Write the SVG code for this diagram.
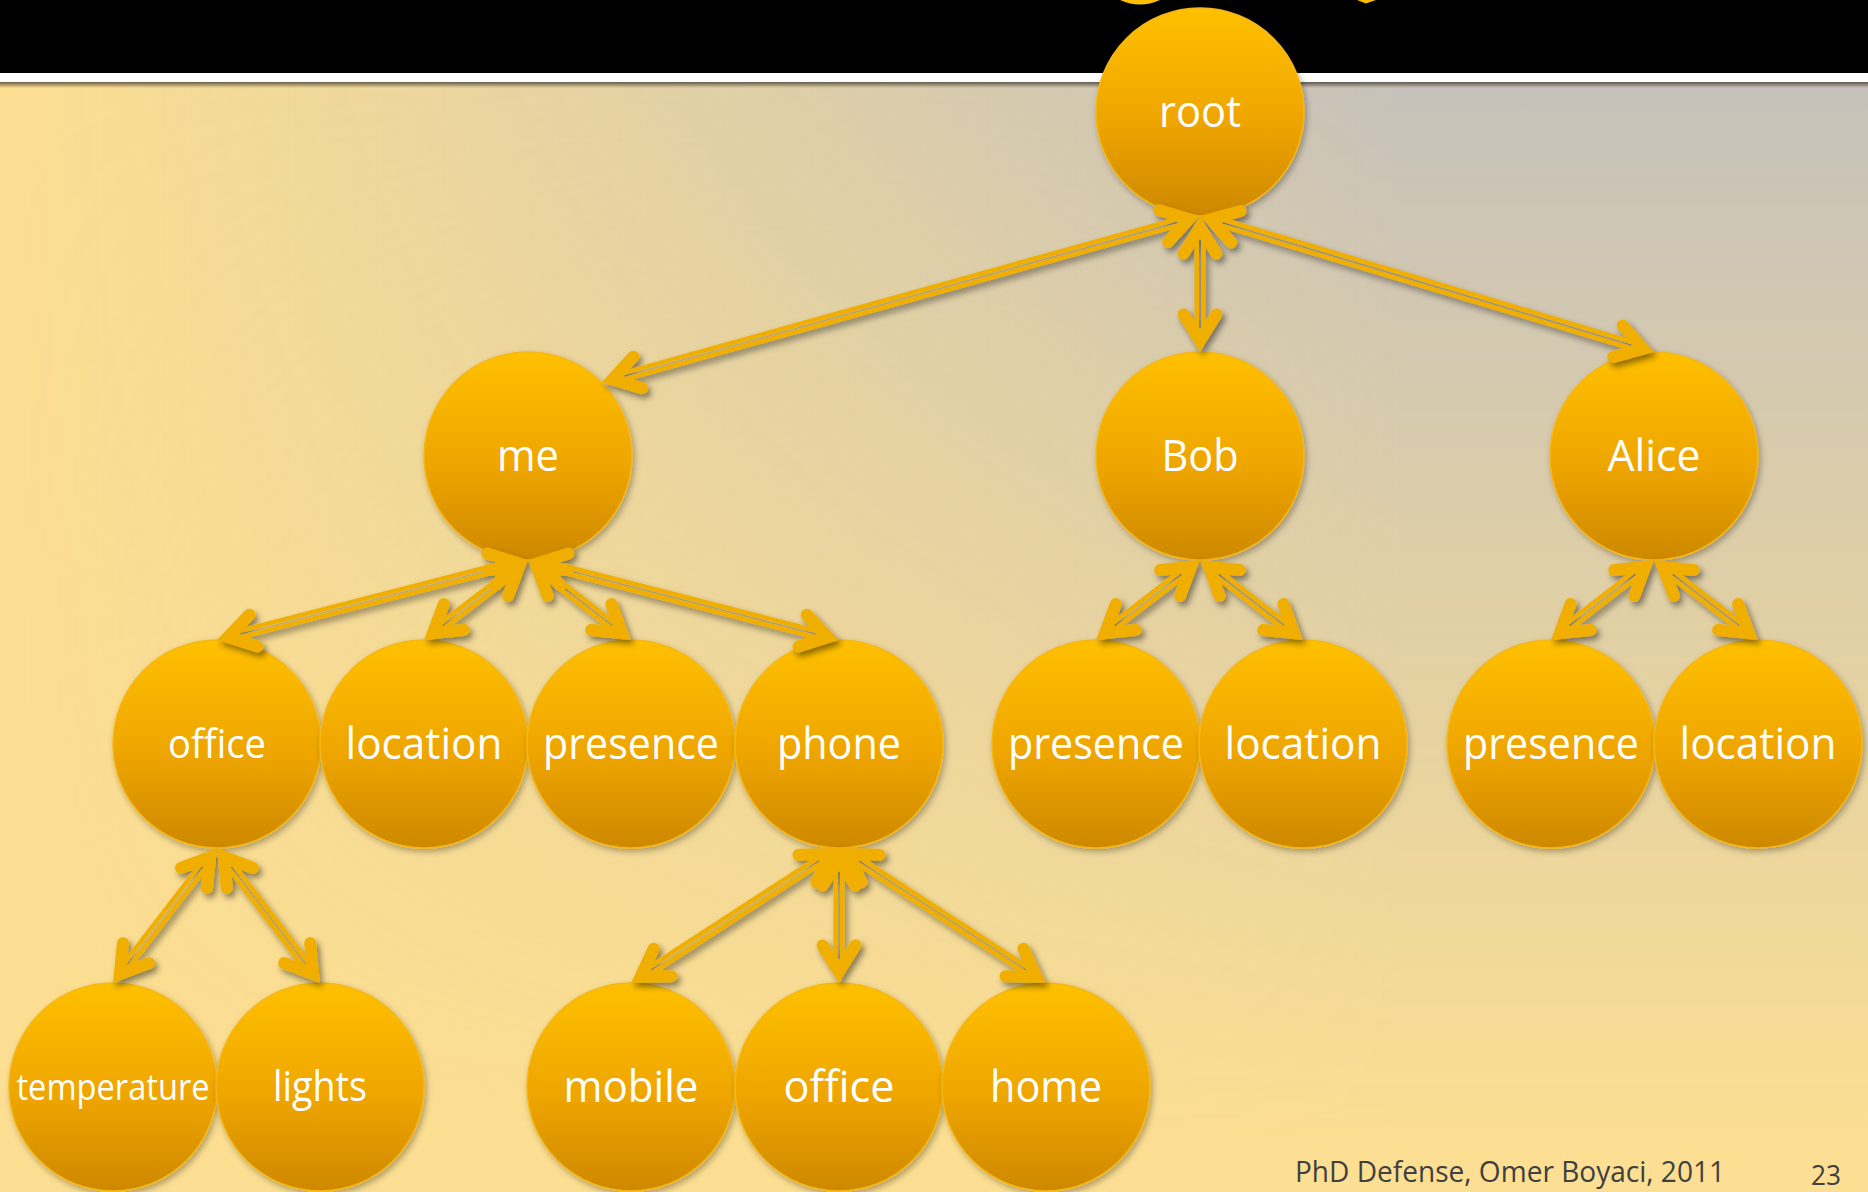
<svg xmlns="http://www.w3.org/2000/svg" xmlns:xlink="http://www.w3.org/1999/xlink" width="1868" height="1192" viewBox="0 0 1868 1192">
  <style>
    .ball { fill: url(#ballFill); stroke: #F5B718; stroke-width: 1.5; filter: url(#nodeShadow); }
    .label { fill: #ffffff; font-family: "Open Sans", "Noto Sans", sans-serif; font-size: 44px; text-anchor: middle; }
    .shaft { stroke: #F0AE00; stroke-width: 11; stroke-linecap: butt; fill: none; }
    .heads { stroke: none; fill: none; marker-start: url(#chev); marker-end: url(#chev); }
    .gap { stroke: #000; stroke-width: 2; }
    .footer { fill: #404040; font-family: "Open Sans", "Noto Sans", sans-serif; }
  </style>
  <defs>
    <linearGradient id="ballFill" x1="0" y1="0" x2="0" y2="1">
      <stop offset="0" stop-color="#FFC000"/>
      <stop offset="0.55" stop-color="#EEA500"/>
      <stop offset="1" stop-color="#CD8800"/>
    </linearGradient>
    <linearGradient id="bgTint" gradientUnits="userSpaceOnUse" x1="0" y1="0" x2="1868" y2="0">
      <stop offset="0" stop-color="#C6C1BA" stop-opacity="0"/>
      <stop offset="0.75" stop-color="#C6C1BA" stop-opacity="1"/>
      <stop offset="1" stop-color="#C6C1BA" stop-opacity="1"/>
    </linearGradient>
    <linearGradient id="fadeDown" gradientUnits="userSpaceOnUse" x1="0" y1="82" x2="0" y2="1150">
      <stop offset="0" stop-color="#fff"/>
      <stop offset="1" stop-color="#000"/>
    </linearGradient>
    <linearGradient id="barShade" x1="0" y1="0" x2="0" y2="1">
      <stop offset="0" stop-color="#3c3428" stop-opacity="0.75"/>
      <stop offset="1" stop-color="#3c3428" stop-opacity="0"/>
    </linearGradient>
    <mask id="tintFade" maskUnits="userSpaceOnUse" x="0" y="0" width="1868" height="1192">
      <rect width="1868" height="1192" fill="url(#fadeDown)"/>
    </mask>
    <filter id="nodeShadow" x="-20%" y="-20%" width="150%" height="150%">
      <feDropShadow dx="2" dy="3" stdDeviation="3" flood-color="#000" flood-opacity="0.3"/>
    </filter>
    <filter id="edgeShadow" filterUnits="userSpaceOnUse" x="0" y="0" width="1868" height="1192">
      <feDropShadow dx="3" dy="4" stdDeviation="3" flood-color="#000" flood-opacity="0.45"/>
    </filter>
    <!-- open chevron head, vertex at the origin -->
    <marker id="chev" markerUnits="userSpaceOnUse" viewBox="-40 -40 80 80" markerWidth="80" markerHeight="80" refX="0" refY="0" orient="auto-start-reverse" overflow="visible">
      <path d="M-26.3,-16.4 L0,0 L-26.3,16.4" fill="none" stroke="#F0AE00" stroke-width="12" stroke-linecap="round" stroke-linejoin="miter" stroke-miterlimit="10"/>
    </marker>
    <!-- the thin slit that runs along the middle of every shaft -->
    <mask id="gapCut" maskUnits="userSpaceOnUse" x="0" y="0" width="1868" height="1192">
      <rect width="1868" height="1192" fill="#fff"/>
      <g class="gap">
        <line x1="1177.8" y1="222.2" x2="623.7" y2="376.3"/>
        <line x1="1200" y1="239" x2="1200" y2="329"/>
        <line x1="1222.0" y1="222.6" x2="1632.0" y2="345.4"/>
        <line x1="505.7" y1="565.7" x2="239.3" y2="634.3"/>
        <line x1="509.8" y1="574.0" x2="442.2" y2="626.0"/>
        <line x1="546.2" y1="574.1" x2="612.8" y2="625.9"/>
        <line x1="550.3" y1="565.7" x2="816.7" y2="634.3"/>
        <line x1="1181.8" y1="574.0" x2="1114.2" y2="626.0"/>
        <line x1="1218.2" y1="574.1" x2="1284.8" y2="625.9"/>
        <line x1="1635.8" y1="574.1" x2="1569.2" y2="625.9"/>
        <line x1="1672.2" y1="574.0" x2="1739.8" y2="626.0"/>
        <line x1="203.0" y1="866.2" x2="127.0" y2="964.8"/>
        <line x1="231.0" y1="866.3" x2="306.1" y2="964.7"/>
        <line x1="819.7" y1="860.5" x2="650.3" y2="970.5"/>
        <line x1="839" y1="871" x2="839" y2="960"/>
        <line x1="858.3" y1="860.6" x2="1026.7" y2="970.4"/>
      </g>
    </mask>
  </defs>

  <!-- slide background -->
  <rect width="1868" height="1192" fill="#FCDF92"/>
  <rect width="1868" height="1192" fill="url(#bgTint)" mask="url(#tintFade)"/>

  <!-- title band -->
  <rect x="0" y="0" width="1868" height="73" fill="#000"/>
  <rect x="0" y="73" width="1868" height="9" fill="#fff"/>
  <rect x="0" y="82" width="1868" height="6" fill="url(#barShade)"/>
  <path d="M1120,0 Q1140,9 1160,0 Z" fill="#FDBF00"/>
  <path d="M1357,0 L1366,3.5 L1376,0 Z" fill="#FDBF00"/>

  <!-- nodes -->
  <g id="node-root"><circle class="ball" cx="1200" cy="112" r="104"/><text class="label" x="1200" y="127" textLength="82" lengthAdjust="spacingAndGlyphs">root</text></g>

  <g id="node-me"><circle class="ball" cx="528" cy="456" r="104"/><text class="label" x="528" y="471" textLength="62" lengthAdjust="spacingAndGlyphs">me</text></g>
  <g id="node-bob"><circle class="ball" cx="1200" cy="456" r="104"/><text class="label" x="1200" y="471" textLength="77" lengthAdjust="spacingAndGlyphs">Bob</text></g>
  <g id="node-alice"><circle class="ball" cx="1654" cy="456" r="104"/><text class="label" x="1654" y="471" textLength="93" lengthAdjust="spacingAndGlyphs">Alice</text></g>

  <g id="node-me-office"><circle class="ball" cx="217" cy="744" r="104"/><text class="label" x="217" y="758" style="font-size:40px" textLength="98" lengthAdjust="spacingAndGlyphs">office</text></g>
  <g id="node-me-location"><circle class="ball" cx="424" cy="744" r="104"/><text class="label" x="424" y="759" textLength="157" lengthAdjust="spacingAndGlyphs">location</text></g>
  <g id="node-me-presence"><circle class="ball" cx="631" cy="744" r="104"/><text class="label" x="631" y="759" textLength="176" lengthAdjust="spacingAndGlyphs">presence</text></g>
  <g id="node-me-phone"><circle class="ball" cx="839" cy="744" r="104"/><text class="label" x="839" y="759" textLength="124" lengthAdjust="spacingAndGlyphs">phone</text></g>

  <g id="node-bob-presence"><circle class="ball" cx="1096" cy="744" r="104"/><text class="label" x="1096" y="759" textLength="176" lengthAdjust="spacingAndGlyphs">presence</text></g>
  <g id="node-bob-location"><circle class="ball" cx="1303" cy="744" r="104"/><text class="label" x="1303" y="759" textLength="157" lengthAdjust="spacingAndGlyphs">location</text></g>

  <g id="node-alice-presence"><circle class="ball" cx="1551" cy="744" r="104"/><text class="label" x="1551" y="759" textLength="176" lengthAdjust="spacingAndGlyphs">presence</text></g>
  <g id="node-alice-location"><circle class="ball" cx="1758" cy="744" r="104"/><text class="label" x="1758" y="759" textLength="157" lengthAdjust="spacingAndGlyphs">location</text></g>

  <g id="node-temperature"><circle class="ball" cx="113" cy="1087" r="104"/><text class="label" x="113" y="1100" style="font-size:37px" textLength="193" lengthAdjust="spacingAndGlyphs">temperature</text></g>
  <g id="node-lights"><circle class="ball" cx="320" cy="1087" r="104"/><text class="label" x="320" y="1101" style="font-size:42px" textLength="94" lengthAdjust="spacingAndGlyphs">lights</text></g>

  <g id="node-mobile"><circle class="ball" cx="631" cy="1087" r="104"/><text class="label" x="631" y="1102" textLength="135" lengthAdjust="spacingAndGlyphs">mobile</text></g>
  <g id="node-phone-office"><circle class="ball" cx="839" cy="1087" r="104"/><text class="label" x="839" y="1102" textLength="111" lengthAdjust="spacingAndGlyphs">office</text></g>
  <g id="node-home"><circle class="ball" cx="1046" cy="1087" r="104"/><text class="label" x="1046" y="1102" textLength="112" lengthAdjust="spacingAndGlyphs">home</text></g>

  <!-- connectors: double-line shafts with open heads at both ends -->
  <g id="connectors" filter="url(#edgeShadow)">
    <g class="shaft" mask="url(#gapCut)">
      <g id="edgeSet">
        <line id="edge-root-me" x1="1189.1" y1="219.0" x2="612.4" y2="379.5"/>
        <line id="edge-root-bob" x1="1200" y1="227.3" x2="1200" y2="340.7"/>
        <line id="edge-root-alice" x1="1210.8" y1="219.2" x2="1643.2" y2="348.7"/>
        <line id="edge-me-office" x1="517.0" y1="562.8" x2="228.0" y2="637.2"/>
        <line id="edge-me-location" x1="519.0" y1="566.9" x2="433.0" y2="633.1"/>
        <line id="edge-me-presence" x1="536.9" y1="566.9" x2="622.1" y2="633.1"/>
        <line id="edge-me-phone" x1="539.0" y1="562.8" x2="828.0" y2="637.2"/>
        <line id="edge-bob-presence" x1="1191.0" y1="566.9" x2="1105.0" y2="633.1"/>
        <line id="edge-bob-location" x1="1208.9" y1="566.9" x2="1294.1" y2="633.1"/>
        <line id="edge-alice-presence" x1="1645.1" y1="566.9" x2="1559.9" y2="633.1"/>
        <line id="edge-alice-location" x1="1663.0" y1="566.9" x2="1749.0" y2="633.1"/>
        <line id="edge-office-temperature" x1="210.1" y1="857.0" x2="119.9" y2="974.0"/>
        <line id="edge-office-lights" x1="223.9" y1="857.0" x2="313.1" y2="974.0"/>
        <line id="edge-phone-mobile" x1="829.5" y1="854.2" x2="640.5" y2="976.8"/>
        <line id="edge-phone-office" x1="839" y1="859.3" x2="839" y2="971.7"/>
        <line id="edge-phone-home" x1="848.5" y1="854.2" x2="1036.5" y2="976.8"/>
      </g>
    </g>
    <use href="#edgeSet" xlink:href="#edgeSet" class="heads"/>
  </g>

  <!-- footer -->
  <text class="footer" x="1295" y="1182" style="font-size:30px" textLength="430" lengthAdjust="spacingAndGlyphs">PhD Defense, Omer Boyaci, 2011</text>
  <text class="footer" x="1811" y="1185" style="font-size:28px" textLength="30" lengthAdjust="spacingAndGlyphs">23</text>
</svg>
